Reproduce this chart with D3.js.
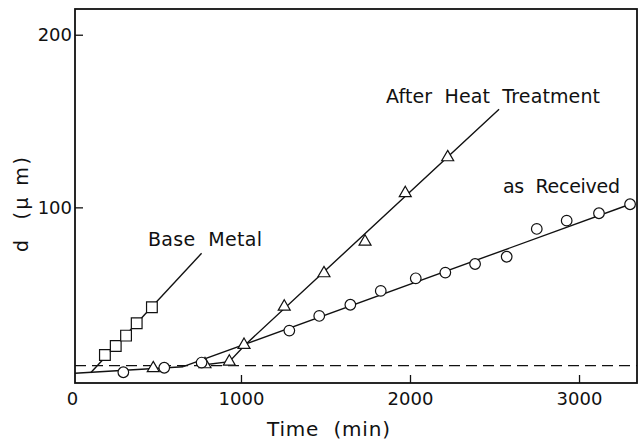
<!DOCTYPE html>
<html>
<head>
<meta charset="utf-8">
<script src="https://d3js.org/d3.v7.min.js"></script>
<style>
  body { margin: 0; background: #fff; }
  svg text { font-family: "DejaVu Sans", sans-serif; fill: #111; white-space: pre; }
  .fit { fill: none; stroke: #111; stroke-width: 1.4px; }
  .mark { fill: #fff; stroke: #111; stroke-width: 1.2px; }
</style>
</head>
<body>
<div id="chart"></div>
<script>
// values (time in min, d in um)
const baseTime = [195, 259, 320, 383, 473];
const baseD = [14.5, 19.7, 25.7, 32.9, 42.1];

const heatTime = [481, 787, 931, 1018, 1256, 1491, 1734, 1972, 2223];
const heatD = [6.8, 9.1, 10.6, 20.3, 42.5, 61.8, 80.1, 108.2, 129.0];

const recvTime = [304, 546, 767, 1286, 1463, 1647, 1827, 2034, 2209, 2385, 2572, 2750, 2927, 3118, 3302];
const recvD = [4.5, 7.1, 10.1, 28.6, 37.1, 43.6, 51.6, 58.9, 62.2, 67.2, 71.4, 87.5, 92.3, 96.6, 101.8];

// drawn fit lines
const baseFitT = [111, 767], baseFitD = [4.2, 73.4];
const commonFitT = [18, 658], commonFitD = [3.9, 7.7];
const recvFitT = [658, 3302], recvFitD = [7.7, 101.8];
const heatFitT = [775, 931, 1024, 2527], heatFitD = [8.7, 10.6, 20.3, 156.8];
const criticalD = 8.3;

const xTicks = [0, 1000, 2000, 3000];
const yTicks = [100, 200];

const width = 644, height = 442;
const svg = d3.select('#chart').append('svg')
    .attr('width', width)
    .attr('height', height);

const x = d3.scaleLinear().domain([18, 3343]).range([75, 637]);
const y = d3.scaleLinear().domain([-1.74, 214.9]).range([383, 9]);

const zip = (a, b) => a.map((v, i) => [v, b[i]]);
const line = d3.line().x(d => x(d[0])).y(d => y(d[1]));

// axes
const xAxisG = svg.append('g')
    .attr('transform', `translate(0,${y.range()[0]})`)
    .call(d3.axisBottom(x).tickValues(xTicks).tickSize(-8).tickPadding(9).tickFormat(d3.format('d')));
const yAxisG = svg.append('g')
    .attr('transform', `translate(${x.range()[0]},0)`)
    .call(d3.axisLeft(y).tickValues(yTicks).tickSize(-8).tickPadding(3));

[xAxisG, yAxisG].forEach(g => {
    g.select('.domain').remove();
    g.selectAll('.tick line').attr('stroke', '#111').attr('stroke-width', 1.3);
    g.selectAll('.tick text').style('font-size', '18px').attr('fill', '#111');
});
xAxisG.selectAll('.tick').filter(d => d === 0).select('line').remove();

// frame
svg.append('rect')
    .attr('x', x.range()[0]).attr('y', y.range()[1])
    .attr('width', x.range()[1] - x.range()[0])
    .attr('height', y.range()[0] - y.range()[1])
    .attr('fill', 'none').attr('stroke', '#111').attr('stroke-width', 1.8);

// dashed critical level
svg.append('line')
    .attr('x1', x.range()[0]).attr('x2', x.range()[1])
    .attr('y1', y(criticalD)).attr('y2', y(criticalD))
    .attr('stroke', '#111').attr('stroke-width', 1.3)
    .attr('stroke-dasharray', '11,6');

// fit lines
[[baseFitT, baseFitD], [commonFitT, commonFitD], [recvFitT, recvFitD], [heatFitT, heatFitD]]
    .forEach(([t, d]) => svg.append('path').attr('class', 'fit').attr('d', line(zip(t, d))));

// markers
svg.selectAll('.sq').data(zip(baseTime, baseD)).enter().append('path')
    .attr('class', 'mark')
    .attr('d', d3.symbol(d3.symbolSquare).size(115))
    .attr('transform', d => `translate(${x(d[0])},${y(d[1])})`);

svg.selectAll('.tri').data(zip(heatTime, heatD)).enter().append('path')
    .attr('class', 'mark')
    .attr('d', d3.symbol(d3.symbolTriangle).size(62))
    .attr('transform', d => `translate(${x(d[0])},${y(d[1])})`);

svg.selectAll('.circ').data(zip(recvTime, recvD)).enter().append('circle')
    .attr('class', 'mark')
    .attr('r', 5.3)
    .attr('cx', d => x(d[0]))
    .attr('cy', d => y(d[1]));

// labels
const label = (txt, lx, ly, len, size) => svg.append('text')
    .attr('x', lx).attr('y', ly)
    .attr('textLength', len).attr('lengthAdjust', 'spacing')
    .style('font-size', size + 'px')
    .text(txt);

label('Base  Metal', 148, 246, 114, 19);
label('After  Heat  Treatment', 386, 103, 214, 19);
label('as  Received', 503, 193, 117, 19);
label('Time  (min)', 267, 436, 123, 20);

svg.append('text')
    .attr('transform', 'translate(28,252) rotate(-90)')
    .attr('textLength', 95).attr('lengthAdjust', 'spacing')
    .style('font-size', '19px')
    .text('d  (\u03bc m)');
</script>
</body>
</html>
